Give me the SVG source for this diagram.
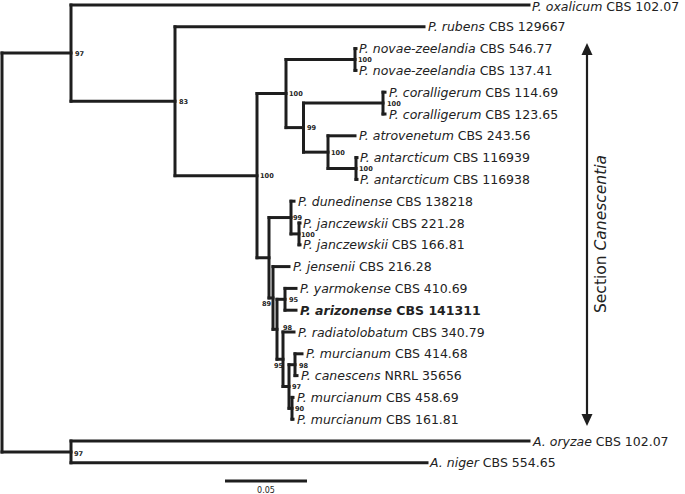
<svg xmlns="http://www.w3.org/2000/svg" width="685" height="494" viewBox="0 0 685 494">
<defs>
<style>
.br{fill:none;stroke:#1e1e1e;stroke-width:3;stroke-linecap:square}
.lf{font-family:"DejaVu Sans",sans-serif;font-size:12.5px;fill:#222}
.it{font-style:italic}
.bs{font-family:"DejaVu Sans",sans-serif;font-size:6.6px;font-weight:bold;fill:#222}
.sc{font-family:"DejaVu Sans",sans-serif;font-size:8px;fill:#222}
</style>
<marker id="ah" viewBox="0 0 12 12" refX="0" refY="6" markerWidth="12" markerHeight="12" markerUnits="userSpaceOnUse" orient="auto-start-reverse">
<path d="M0,0.5 L12,6 L0,11.5 Z" fill="#1e1e1e"/>
</marker>
</defs>
<rect width="685" height="494" fill="#fff"/>
<g id="connectors" class="br">
<path d="M2,53.1 V451.9"/>
<path d="M2,53.1 H71"/>
<path d="M2,451.9 H71"/>
<path d="M71,5 V101.2"/>
<path d="M71,5 H529"/>
<path d="M71,101.2 H175"/>
<path d="M175,26.8 V175.65"/>
<path d="M175,26.8 H424"/>
<path d="M175,175.65 H257"/>
<path d="M257,93.55 V257.75"/>
<path d="M257,93.55 H286"/>
<path d="M257,257.75 H269"/>
<path d="M286,59.5 V127.6"/>
<path d="M286,59.5 H355"/>
<path d="M286,127.6 H303.5"/>
<path d="M355,48.6 V70.4"/>
<path d="M355,48.6 H356"/>
<path d="M355,70.4 H356"/>
<path d="M303.5,103.1 V152.15"/>
<path d="M303.5,103.1 H383"/>
<path d="M303.5,152.15 H328"/>
<path d="M383,92.2 V114"/>
<path d="M383,92.2 H385"/>
<path d="M383,114 H385"/>
<path d="M328,135.8 V168.5"/>
<path d="M328,135.8 H355"/>
<path d="M328,168.5 H356"/>
<path d="M356,157.6 V179.4"/>
<path d="M356,157.6 H357"/>
<path d="M356,179.4 H357"/>
<path d="M269,217.55 V297.95"/>
<path d="M269,217.55 H291"/>
<path d="M269,297.95 H273"/>
<path d="M291,201.2 V233.9"/>
<path d="M291,201.2 H294"/>
<path d="M291,233.9 H299"/>
<path d="M299,223 V244.8"/>
<path d="M299,223 H300"/>
<path d="M299,244.8 H300"/>
<path d="M273,266.6 V329.3"/>
<path d="M273,266.6 H289"/>
<path d="M273,329.3 H277"/>
<path d="M277,299.3 V359.25"/>
<path d="M277,299.3 H285"/>
<path d="M277,359.25 H283"/>
<path d="M285,288.4 V310.2"/>
<path d="M285,288.4 H296"/>
<path d="M285,310.2 H296"/>
<path d="M283,332 V386.5"/>
<path d="M283,332 H294"/>
<path d="M283,386.5 H289"/>
<path d="M289,364.7 V408.3"/>
<path d="M289,364.7 H295"/>
<path d="M289,408.3 H292"/>
<path d="M295,353.8 V375.6"/>
<path d="M295,353.8 H302"/>
<path d="M295,375.6 H297"/>
<path d="M292,397.4 V419.2"/>
<path d="M292,397.4 H293"/>
<path d="M292,419.2 H293"/>
<path d="M71,441 V462.8"/>
<path d="M71,441 H529"/>
<path d="M71,462.8 H427"/>
</g>
<g id="supports">
<text class="bs" x="75" y="55.5">97</text>
<text class="bs" x="179" y="103.6">83</text>
<text class="bs" x="260" y="178.2">100</text>
<text class="bs" x="289" y="96">100</text>
<text class="bs" x="307" y="130">99</text>
<text class="bs" x="331" y="154.6">100</text>
<text class="bs" x="358" y="62">100</text>
<text class="bs" x="387" y="105.5">100</text>
<text class="bs" x="359" y="171">100</text>
<text class="bs" x="293" y="220">99</text>
<text class="bs" x="301" y="236.5">100</text>
<text class="bs" x="262" y="305.5">89</text>
<text class="bs" x="289" y="302">95</text>
<text class="bs" x="283" y="329.5">98</text>
<text class="bs" x="274" y="367.5">95</text>
<text class="bs" x="299" y="367.5">98</text>
<text class="bs" x="292" y="389">97</text>
<text class="bs" x="295" y="410.5">90</text>
<text class="bs" x="74" y="456">97</text>
</g>
<g id="leaf-oxalicum"><text class="lf" x="532" y="10.5"><tspan class="it">P. oxalicum</tspan> CBS 102.07</text></g>
<g id="leaf-rubens"><text class="lf" x="428" y="31.3"><tspan class="it">P. rubens</tspan> CBS 129667</text></g>
<g id="leaf-novae1"><text class="lf" x="359" y="53.1"><tspan class="it">P. novae-zeelandia</tspan> CBS 546.77</text></g>
<g id="leaf-novae2"><text class="lf" x="359" y="74.9"><tspan class="it">P. novae-zeelandia</tspan> CBS 137.41</text></g>
<g id="leaf-coral1"><text class="lf" x="389" y="96.7"><tspan class="it">P. coralligerum</tspan> CBS 114.69</text></g>
<g id="leaf-coral2"><text class="lf" x="389" y="118.5"><tspan class="it">P. coralligerum</tspan> CBS 123.65</text></g>
<g id="leaf-atrovenetum"><text class="lf" x="359" y="140.3"><tspan class="it">P. atrovenetum</tspan> CBS 243.56</text></g>
<g id="leaf-antarcticum1"><text class="lf" x="360" y="162.1"><tspan class="it">P. antarcticum</tspan> CBS 116939</text></g>
<g id="leaf-antarcticum2"><text class="lf" x="360" y="183.9"><tspan class="it">P. antarcticum</tspan> CBS 116938</text></g>
<g id="leaf-dunedinense"><text class="lf" x="298" y="205.7"><tspan class="it">P. dunedinense</tspan> CBS 138218</text></g>
<g id="leaf-janczewskii1"><text class="lf" x="303" y="227.5"><tspan class="it">P. janczewskii</tspan> CBS 221.28</text></g>
<g id="leaf-janczewskii2"><text class="lf" x="303" y="249.3"><tspan class="it">P. janczewskii</tspan> CBS 166.81</text></g>
<g id="leaf-jensenii"><text class="lf" x="293" y="271.1"><tspan class="it">P. jensenii</tspan> CBS 216.28</text></g>
<g id="leaf-yarmokense"><text class="lf" x="300" y="292.9"><tspan class="it">P. yarmokense</tspan> CBS 410.69</text></g>
<g id="leaf-arizonense"><text class="lf" x="300" y="314.7" font-weight="bold"><tspan class="it">P. arizonense</tspan> CBS 141311</text></g>
<g id="leaf-radiatolobatum"><text class="lf" x="298" y="336.5"><tspan class="it">P. radiatolobatum</tspan> CBS 340.79</text></g>
<g id="leaf-murcianum1"><text class="lf" x="306" y="358.3"><tspan class="it">P. murcianum</tspan> CBS 414.68</text></g>
<g id="leaf-canescens"><text class="lf" x="301" y="380.1"><tspan class="it">P. canescens</tspan> NRRL 35656</text></g>
<g id="leaf-murcianum2"><text class="lf" x="297" y="401.9"><tspan class="it">P. murcianum</tspan> CBS 458.69</text></g>
<g id="leaf-murcianum3"><text class="lf" x="297" y="423.7"><tspan class="it">P. murcianum</tspan> CBS 161.81</text></g>
<g id="leaf-oryzae"><text class="lf" x="533" y="445.5"><tspan class="it">A. oryzae</tspan> CBS 102.07</text></g>
<g id="leaf-niger"><text class="lf" x="430" y="467.3"><tspan class="it">A. niger</tspan> CBS 554.65</text></g>
<g id="section">
<line x1="587" y1="55" x2="587" y2="414" stroke="#1e1e1e" stroke-width="2.2" marker-start="url(#ah)" marker-end="url(#ah)"/>
<text transform="translate(606,234) rotate(-90)" text-anchor="middle" font-family="DejaVu Sans, sans-serif" font-size="15.5px" fill="#222">Section <tspan font-style="italic">Canescentia</tspan></text>
</g>
<g id="scalebar">
<line x1="225" y1="481" x2="307" y2="481" stroke="#1e1e1e" stroke-width="3"/>
<text class="sc" x="266" y="493" text-anchor="middle">0.05</text>
</g>
</svg>
